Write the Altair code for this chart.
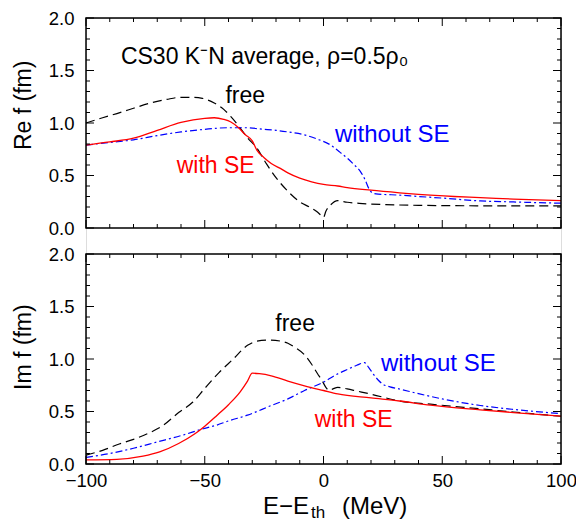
import altair as alt
import pandas as pd

FONT = "Liberation Sans"

# ---------------- data ----------------
# Re f, free
re_free_E = [-100, -93, -87, -80, -73, -66, -60, -55, -51, -46, -42, -39, -36, -32, -28, -24, -20, -15, -10, -6, -3, -1, 0, 1, 3, 6, 10, 15, 20, 30, 40, 60, 80, 100]
re_free_v = [1.00, 1.05, 1.09, 1.14, 1.19, 1.225, 1.245, 1.245, 1.235, 1.19, 1.13, 1.06, 0.98, 0.86, 0.76, 0.61, 0.48, 0.35, 0.25, 0.20, 0.16, 0.12, 0.10, 0.16, 0.22, 0.26, 0.245, 0.235, 0.228, 0.22, 0.216, 0.212, 0.21, 0.21]
# Re f, with SE
re_se_E = [-100, -90, -80, -70, -60, -50, -46, -42, -39, -36, -33, -30, -28, -25, -22, -18, -15, -10, -5, 0, 6, 10, 20, 32, 40, 55, 66, 80, 100]
re_se_v = [0.79, 0.82, 0.855, 0.93, 1.005, 1.045, 1.05, 1.035, 1.01, 0.96, 0.89, 0.83, 0.74, 0.67, 0.615, 0.565, 0.525, 0.475, 0.44, 0.415, 0.40, 0.385, 0.36, 0.335, 0.32, 0.30, 0.29, 0.275, 0.26]
# Re f, without SE
re_nose_E = [-100, -90, -80, -70, -60, -50, -40, -33, -25, -20, -15, -8, -3, 3, 7, 10, 13, 15.5, 17.5, 19, 20.5, 23, 27, 31, 40, 50, 66, 80, 100]
re_nose_v = [0.79, 0.815, 0.84, 0.88, 0.915, 0.94, 0.955, 0.955, 0.94, 0.93, 0.915, 0.887, 0.85, 0.79, 0.72, 0.665, 0.60, 0.54, 0.46, 0.38, 0.335, 0.322, 0.318, 0.314, 0.30, 0.285, 0.258, 0.248, 0.236]

# Im f, free
im_free_E = [-100, -93, -86, -80, -73, -68, -61, -55, -50, -44, -38, -32, -28, -23, -18, -15, -12, -8, -5, -2.5, -0.5, 1, 2.5, 4, 6, 10, 14, 20, 32, 45, 66, 80, 100]
im_free_v = [0.085, 0.13, 0.19, 0.235, 0.30, 0.36, 0.49, 0.59, 0.72, 0.87, 1.00, 1.13, 1.17, 1.18, 1.17, 1.15, 1.11, 1.04, 0.95, 0.86, 0.79, 0.73, 0.70, 0.715, 0.73, 0.715, 0.695, 0.665, 0.60, 0.57, 0.525, 0.495, 0.455]
# Im f, with SE
im_se_E = [-100, -87, -76, -69, -61, -54, -50, -45, -40, -35, -32, -30, -27, -22, -15, -8, 0, 6, 20, 32, 45, 66, 80, 100]
im_se_v = [0.04, 0.045, 0.075, 0.115, 0.195, 0.29, 0.36, 0.46, 0.565, 0.69, 0.79, 0.865, 0.86, 0.84, 0.79, 0.745, 0.70, 0.667, 0.63, 0.60, 0.56, 0.516, 0.49, 0.455]
# Im f, without SE
im_nose_E = [-100, -90, -80, -70, -60, -50, -45, -40, -32, -22, -15, -8, 0, 5.7, 10, 14, 17.3, 19, 21, 23, 25, 28, 32, 40, 50, 66, 80, 100]
im_nose_v = [0.063, 0.10, 0.15, 0.21, 0.27, 0.34, 0.37, 0.41, 0.465, 0.557, 0.62, 0.70, 0.78, 0.855, 0.90, 0.94, 0.965, 0.92, 0.855, 0.80, 0.76, 0.735, 0.714, 0.67, 0.62, 0.557, 0.52, 0.48]

x_major = [-100, -50, 0, 50, 100]
x_minor = [-90, -80, -70, -60, -40, -30, -20, -10, 10, 20, 30, 40, 60, 70, 80, 90]
y_major = [0.0, 0.5, 1.0, 1.5, 2.0]
y_minor = [0.1, 0.2, 0.3, 0.4, 0.6, 0.7, 0.8, 0.9, 1.1, 1.2, 1.3, 1.4, 1.6, 1.7, 1.8, 1.9]

re_labels_text = ["CS30 K\u207bN average, \u03c1=0.5\u03c1\u2080", "free", "without SE", "with SE"]
re_labels_E = [-85.3, -41.3, 4.8, -61.8]
re_labels_v = [1.563, 1.19, 0.82, 0.528]
re_labels_size = [23, 23, 24, 23]
im_labels_text = ["free", "without SE", "with SE"]
im_labels_E = [-20.3, 24.2, -3.7]
im_labels_v = [1.264, 0.887, 0.35]
im_labels_size = [23, 24, 23]
label_colors = {"free": "black", "without SE": "#0000ff", "with SE": "#ff0000"}

# ---------------- layout (one view, two stacked panels) ----------------
LEFT = 78          # px from svg edge to the plot
TOP = 10
W = 475            # plot width in px
SVG_W = 568
SVG_H = 513
PANEL_H = 210      # each panel height in px
GAP = 26           # gap between the panels in px
PXU = PANEL_H / 2.0            # px per y unit
OFF = 2.0 + GAP / PXU          # y offset of the upper (Re f) panel
YTOP = OFF + 2.0
H = int(round(YTOP * PXU))     # whole plot height
PXE = W / 200.0                # px per MeV

XS = alt.Scale(domain=[-100, 100], nice=False, zero=False)
YS = alt.Scale(domain=[0, YTOP], nice=False, zero=False)

X = alt.X("E:Q", scale=XS,
          axis=alt.Axis(values=x_major, ticks=False, domain=False, grid=False, title=None,
                        labelFontSize=18.5, labelPadding=7, labelFont=FONT, labelColor="black",
                        labelFlush=False))
label_vals = y_major + [v + OFF - 1e-9 for v in y_major]
Y = alt.Y("v:Q", scale=YS,
          axis=alt.Axis(values=label_vals, ticks=False, domain=False, grid=False, title=None,
                        labelExpr=f"datum.value > 2.1 ? format(datum.value - {OFF}, '.1f') : format(datum.value, '.1f')",
                        labelFontSize=18.5, labelPadding=12, labelFont=FONT, labelColor="black",
                        labelFlush=False))


def curve(E, v, off, **style):
    d = pd.DataFrame({"E": E, "v": [x + off for x in v]})
    return alt.Chart(d).mark_line(interpolate="monotone", **style).encode(x=X, y=Y)


layers = []
for off, (fr, se, no) in ((OFF, ((re_free_E, re_free_v), (re_se_E, re_se_v), (re_nose_E, re_nose_v))),
                          (0.0, ((im_free_E, im_free_v), (im_se_E, im_se_v), (im_nose_E, im_nose_v)))):
    layers.append(curve(*fr, off, color="black", strokeWidth=1.2, strokeDash=[9, 5]))
    layers.append(curve(*no, off, color="#0000ff", strokeWidth=1.2, strokeDash=[7, 3, 2, 3]))
    layers.append(curve(*se, off, color="#ff0000", strokeWidth=1.3))

# annotation texts
for off, texts, Es, vs, sizes in ((OFF, re_labels_text, re_labels_E, re_labels_v, re_labels_size),
                                  (0.0, im_labels_text, im_labels_E, im_labels_v, im_labels_size)):
    for t, e, v, s in zip(texts, Es, vs, sizes):
        d = pd.DataFrame({"E": [e], "v": [v + off], "t": [t]})
        layers.append(alt.Chart(d).mark_text(
            align="left", baseline="alphabetic", fontSize=s, font=FONT,
            color=label_colors.get(t, "black")).encode(x=X, y=Y, text="t:N"))

# panel frames
frames = pd.DataFrame({"E": [-100, -100], "E2": [100, 100], "v": [0.0, OFF], "v2": [2.0, YTOP]})
layers.append(alt.Chart(frames).mark_rect(filled=False, stroke="black", strokeWidth=1.5).encode(
    x=X, x2="E2:Q", y=Y, y2="v2:Q"))

# inward ticks on all four sides of both panels
for off in (0.0, OFF):
    for vals, ln in ((x_major, 8), (x_minor, 4)):
        dl = ln / PXU
        d = pd.DataFrame({"E": vals * 2,
                          "v": [off] * len(vals) + [off + 2.0] * len(vals),
                          "v2": [off + dl] * len(vals) + [off + 2.0 - dl] * len(vals)})
        layers.append(alt.Chart(d).mark_rule(color="black", strokeWidth=1).encode(
            x=X, y=Y, y2="v2:Q"))
    for vals, ln in ((y_major, 8), (y_minor, 4)):
        de = ln / PXE
        d = pd.DataFrame({"v": [v + off for v in vals] * 2,
                          "E": [-100] * len(vals) + [100] * len(vals),
                          "E2": [-100 + de] * len(vals) + [100 - de] * len(vals)})
        layers.append(alt.Chart(d).mark_rule(color="black", strokeWidth=1).encode(
            y=Y, x=X, x2="E2:Q"))

# axis titles (drawn as text so that subscripts can be set)
def txt(t, x, y, size, angle=0, align="left"):
    kw = dict(align=align, baseline="alphabetic", fontSize=size, font=FONT, color="black")
    if angle:
        kw["angle"] = angle
    return alt.Chart(pd.DataFrame({"t": [t]})).mark_text(**kw).encode(
        text="t:N", x=alt.value(x), y=alt.value(y))

layers.append(txt("Re f (fm)", -55, 132, 23, angle=270))
layers.append(txt("Im f (fm)", -55, 372, 23, angle=270))
layers.append(txt("E\u2212E", 223, H + 50, 24, align="right"))
layers.append(txt("th", 225, H + 54, 17))
layers.append(txt("(MeV)", 256, H + 50, 24))

chart = alt.layer(*layers).properties(
    width=W, height=H,
    autosize=alt.AutoSizeParams(type="none"),
    padding={"left": LEFT, "top": TOP, "right": SVG_W - LEFT - W, "bottom": SVG_H - TOP - H},
).configure_view(stroke="transparent").configure(background="white")

chart.save("out.html", embed_options={"renderer": "svg", "actions": False})
